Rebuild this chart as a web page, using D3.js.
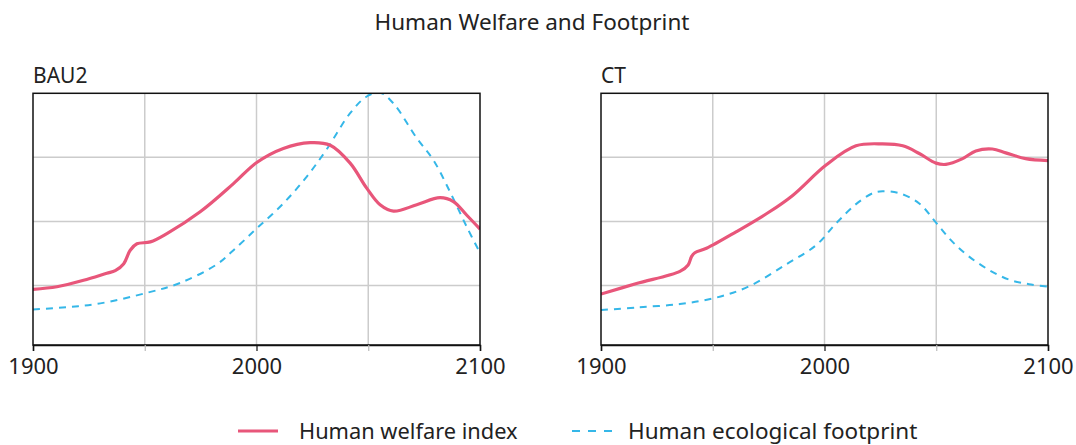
<!DOCTYPE html>
<html>
<head>
<meta charset="utf-8">
<script src="https://cdn.jsdelivr.net/npm/d3@7"></script>
<style>
  html, body { margin: 0; padding: 0; background: #fff; }
  svg { display: block; font-family: "Noto Sans", sans-serif; }
</style>
</head>
<body>
<svg id="chart" width="1076" height="445"></svg>
<script>
// ---- data ----
const chartTitle = "Human Welfare and Footprint";
const panelNames = ["BAU2", "CT"];
const seriesNames = ["Human welfare index", "Human ecological footprint"];
const xTickLabels = [1900, 2000, 2100];
const xGridValues = [1950, 2000, 2050];
const yGridValues = [1, 2, 3];

const bau2WelfareYears = [1900, 1910.7, 1922.6, 1933, 1936.8, 1940.6, 1943.5, 1946.5, 1952.5, 1959.9, 1974.8, 1989.7, 2000.1, 2012, 2024, 2033, 2041.9, 2049.3, 2055.3, 2061.3, 2071.7, 2082.1, 2088.1, 2094, 2100];
const bau2WelfareValues = [0.94, 0.98, 1.08, 1.19, 1.23, 1.34, 1.55, 1.65, 1.68, 1.81, 2.15, 2.59, 2.92, 3.14, 3.23, 3.19, 2.91, 2.52, 2.26, 2.16, 2.26, 2.37, 2.31, 2.10, 1.88];

const bau2FootprintYears = [1900, 1915.2, 1930.1, 1951, 1965.9, 1982.3, 1989.7, 2000.1, 2012, 2022.5, 2031.4, 2041.9, 2049.3, 2055.3, 2061.3, 2071.7, 2079.1, 2086.6, 2094, 2100];
const bau2FootprintValues = [0.625, 0.66, 0.72, 0.885, 1.04, 1.33, 1.55, 1.89, 2.28, 2.70, 3.125, 3.69, 3.95, 4.01, 3.84, 3.30, 2.96, 2.46, 1.92, 1.51];

const ctWelfareYears = [1900, 1915.9, 1935.3, 1939, 1940.5, 1942, 1947.2, 1960.6, 1975.4, 1985.9, 2000.7, 2014.1, 2026, 2035, 2042.4, 2049.9, 2054.3, 2061.8, 2067.7, 2075.1, 2081.1, 2090, 2100];
const ctWelfareValues = [0.865, 1.03, 1.22, 1.32, 1.45, 1.51, 1.58, 1.84, 2.15, 2.41, 2.88, 3.18, 3.21, 3.18, 3.06, 2.91, 2.89, 2.98, 3.10, 3.13, 3.07, 2.98, 2.95];

const ctFootprintYears = [1900, 1915.9, 1935.3, 1951.6, 1966.5, 1982.9, 1996.3, 2005.2, 2014.1, 2021.6, 2026, 2033.5, 2042.4, 2049.9, 2057.3, 2064.7, 2073.7, 2082.6, 2091.5, 2100];
const ctFootprintValues = [0.615, 0.656, 0.71, 0.81, 0.99, 1.33, 1.63, 1.97, 2.27, 2.44, 2.47, 2.44, 2.28, 1.98, 1.68, 1.45, 1.24, 1.09, 1.02, 0.98];

// ---- build ----
const panels = [
  { name: panelNames[0], welfare: d3.zip(bau2WelfareYears, bau2WelfareValues), footprint: d3.zip(bau2FootprintYears, bau2FootprintValues) },
  { name: panelNames[1], welfare: d3.zip(ctWelfareYears, ctWelfareValues), footprint: d3.zip(ctFootprintYears, ctFootprintValues) }
];

const colors = { welfare: "#e8567a", footprint: "#35b7e8" };
const svg = d3.select("#chart");
const panelLeft = [33, 601];
const pw = 447, plotTop = 93.3, plotBottom = 345;

svg.append("text")
  .attr("x", 532).attr("y", 30)
  .attr("text-anchor", "middle")
  .attr("font-size", 22.5).attr("fill", "#222")
  .text(chartTitle);

panels.forEach((p, i) => {
  const g = svg.append("g").attr("transform", `translate(${panelLeft[i]},0)`);
  const x = d3.scaleLinear().domain([1900, 2100]).range([0, pw]);
  const y = d3.scaleLinear().domain([0.07, 4]).range([plotBottom, plotTop]);

  const clipId = "clip" + i;
  g.append("clipPath").attr("id", clipId).append("rect")
    .attr("x", 0).attr("y", plotTop).attr("width", pw).attr("height", plotBottom - plotTop);

  // grid
  g.selectAll(".gx").data(xGridValues).join("line")
    .attr("x1", d => x(d)).attr("x2", d => x(d))
    .attr("y1", plotTop).attr("y2", plotBottom)
    .attr("stroke", "#cccccc").attr("stroke-width", 1.5);
  g.selectAll(".gy").data(yGridValues).join("line")
    .attr("x1", 0).attr("x2", pw)
    .attr("y1", d => y(d)).attr("y2", d => y(d))
    .attr("stroke", "#cccccc").attr("stroke-width", 1.5);

  const line = d3.line().x(d => x(d[0])).y(d => y(d[1])).curve(d3.curveCatmullRom.alpha(0.5));

  const cg = g.append("g").attr("clip-path", `url(#${clipId})`);
  cg.append("path").datum(p.footprint)
    .attr("d", line).attr("fill", "none")
    .attr("stroke", colors.footprint).attr("stroke-width", 2)
    .attr("stroke-dasharray", "7,6");
  cg.append("path").datum(p.welfare)
    .attr("d", line).attr("fill", "none")
    .attr("stroke", colors.welfare).attr("stroke-width", 3.2)
    .attr("stroke-linejoin", "round");

  // frame
  g.append("rect").attr("x", 0).attr("y", plotTop).attr("width", pw).attr("height", plotBottom - plotTop)
    .attr("fill", "none").attr("stroke", "#111").attr("stroke-width", 1.5);

  // x axis
  const axis = d3.axisBottom(x).tickValues([1900, 1950, 2000, 2050, 2100])
    .tickSize(6).tickFormat(d => xTickLabels.includes(d) ? d : "");
  const ag = g.append("g").attr("transform", `translate(0,${plotBottom})`).call(axis);
  ag.select(".domain").attr("stroke", "#111").attr("stroke-width", 1.5);
  ag.selectAll(".tick line").attr("stroke", d => d % 100 === 0 ? "#111" : "#bbb").attr("stroke-width", 1.2);
  ag.selectAll(".tick text").attr("font-size", 22).attr("fill", "#222").attr("font-family", "Noto Sans, sans-serif").attr("dy", "0.9em");

  g.append("text").attr("x", 0).attr("y", 83)
    .attr("font-size", 21).attr("fill", "#222").text(p.name);
});

// legend
const lg = svg.append("g");
lg.append("line").attr("x1", 238).attr("x2", 278).attr("y1", 431).attr("y2", 431)
  .attr("stroke", colors.welfare).attr("stroke-width", 3.2);
lg.append("text").attr("x", 299).attr("y", 439).attr("font-size", 21.8).attr("fill", "#222").text(seriesNames[0]);
lg.append("line").attr("x1", 572).attr("x2", 612).attr("y1", 431).attr("y2", 431)
  .attr("stroke", colors.footprint).attr("stroke-width", 2).attr("stroke-dasharray", "8,8");
lg.append("text").attr("x", 628).attr("y", 439).attr("font-size", 22.5).attr("fill", "#222").text(seriesNames[1]);
</script>
</body>
</html>
